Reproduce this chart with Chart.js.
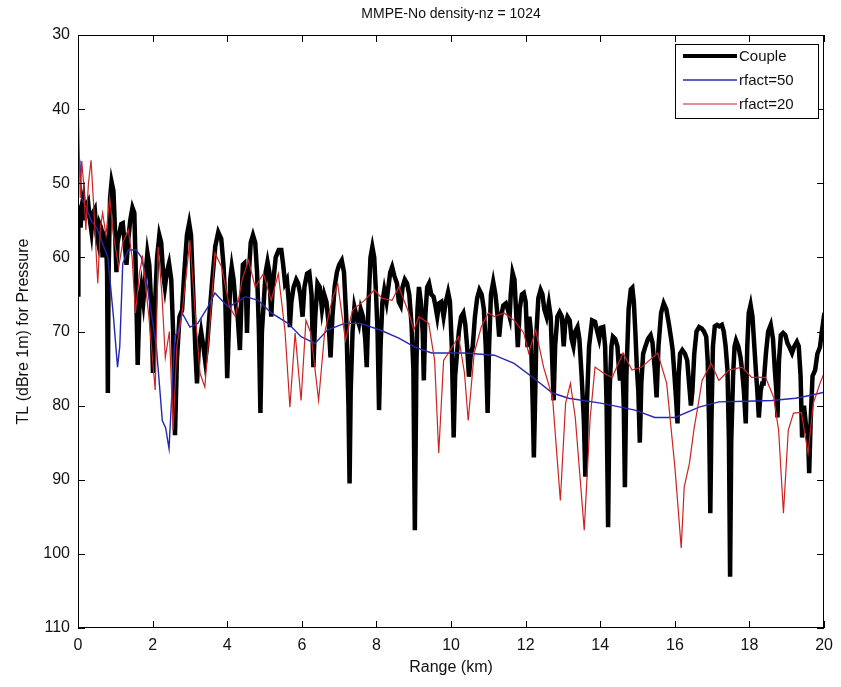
<!DOCTYPE html>
<html><head><meta charset="utf-8">
<script src="https://cdn.jsdelivr.net/npm/chart.js@4"></script>
<style>html,body{margin:0;padding:0;background:#fff}#wrap{width:841px;height:687px}</style>
</head><body><div id="wrap"><canvas id="c" width="841" height="687"></canvas></div>
<script>
const FONT = "'Liberation Sans',Arial,sans-serif";
const chartTitle = 'MMPE-No density-nz = 1024';
const xAxisLabel = 'Range (km)';
const yAxisLabel = 'TL (dBre 1m) for Pressure';
const seriesNames = ['Couple', 'rfact=50', 'rfact=20'];
const xTickValues = [0, 2, 4, 6, 8, 10, 12, 14, 16, 18, 20];
const yTickValues = [30, 40, 50, 60, 70, 80, 90, 100, 110];

// [range km, TL dB]
const couplePoints = [[0,65],[0.01,56],[0.04,53],[0.07,56],[0.1,53],[0.14,52],[0.18,55],[0.22,53],[0.27,52.5],[0.32,55],[0.36,56.5],[0.4,54],[0.45,53.5],[0.5,57],[0.54,58],[0.58,55.5],[0.62,56],[0.66,60],[0.7,57],[0.75,57.5],[0.78,62],[0.8,78.3],[0.82,62],[0.86,52],[0.9,49.8],[0.95,51],[0.99,56],[1.03,62],[1.06,58],[1.1,57],[1.16,55.5],[1.2,55.4],[1.25,58],[1.3,61],[1.34,58],[1.4,55],[1.46,53.3],[1.51,54],[1.55,62],[1.6,74.5],[1.65,66],[1.7,64],[1.75,66],[1.8,63],[1.86,59.4],[1.91,61],[1.96,66],[2.01,75.6],[2.06,67],[2.12,60],[2.18,57],[2.23,58],[2.28,62],[2.33,64],[2.38,62],[2.44,60.8],[2.5,63],[2.55,70],[2.6,84],[2.65,74],[2.72,68],[2.79,67.1],[2.85,62],[2.92,57],[2.98,55.4],[3.03,57],[3.09,65],[3.15,73],[3.19,77],[3.24,72],[3.3,70],[3.36,72],[3.41,74],[3.46,72],[3.52,68],[3.6,63],[3.68,58.5],[3.76,56.6],[3.84,57.5],[3.9,61],[3.95,66],[4.0,76.3],[4.04,70],[4.08,63],[4.12,61.3],[4.17,63],[4.22,66],[4.28,68],[4.34,72.5],[4.38,66],[4.42,61],[4.46,60.8],[4.5,64],[4.53,70.2],[4.57,63],[4.63,58],[4.69,57],[4.75,58],[4.8,62],[4.85,70],[4.89,81],[4.93,70],[4.98,66],[5.03,62],[5.08,60.6],[5.13,62],[5.18,68],[5.22,64],[5.3,60],[5.38,59],[5.45,59],[5.5,61],[5.55,63.5],[5.6,63],[5.65,66],[5.68,69.4],[5.72,66],[5.78,64],[5.85,63],[5.9,63.5],[5.96,65],[6.02,68],[6.07,64],[6.14,62.2],[6.2,62],[6.26,65],[6.31,74.8],[6.36,68],[6.42,63.5],[6.48,64],[6.54,67],[6.6,65],[6.66,66],[6.72,69],[6.77,73.5],[6.82,68],[6.88,64],[6.94,62],[7.0,61],[7.07,60.4],[7.13,62],[7.19,68],[7.25,80],[7.28,90.5],[7.31,78],[7.36,70],[7.41,66.7],[7.47,68],[7.53,69],[7.58,67],[7.64,68],[7.7,71],[7.74,74.8],[7.79,66],[7.84,60],[7.89,58.6],[7.94,60],[7.99,65],[8.03,70],[8.07,80.6],[8.11,72],[8.16,66],[8.21,64.4],[8.27,66],[8.32,64],[8.37,62],[8.42,61.3],[8.48,62.5],[8.55,63.5],[8.6,66],[8.65,66.5],[8.7,64],[8.76,63],[8.82,63.5],[8.88,65],[8.94,69],[8.99,75],[9.03,96.8],[9.07,75],[9.1,67],[9.14,64],[9.19,66],[9.24,70],[9.27,76.6],[9.31,68],[9.36,64],[9.41,63.5],[9.47,65],[9.53,65.3],[9.58,66.5],[9.63,68],[9.68,66.2],[9.74,66],[9.8,68],[9.86,66],[9.92,64.7],[9.97,66],[10.02,72],[10.07,84.3],[10.11,76],[10.16,72.9],[10.21,70],[10.27,68],[10.33,67.5],[10.38,69],[10.43,72],[10.48,76.1],[10.53,73],[10.58,72.1],[10.64,68],[10.7,65.5],[10.76,64.4],[10.82,65],[10.88,67],[10.93,72],[10.98,81],[11.02,72],[11.07,65],[11.13,63.3],[11.19,65],[11.25,68],[11.29,70.7],[11.34,68],[11.4,66.5],[11.47,66.2],[11.52,67],[11.57,68],[11.6,65],[11.65,62.1],[11.7,63],[11.75,68],[11.79,72.1],[11.84,67],[11.9,65],[11.95,64.8],[12.0,66],[12.05,72.1],[12.1,68],[12.14,70],[12.19,80],[12.22,87],[12.25,80],[12.29,70],[12.34,65.5],[12.4,64.4],[12.45,65],[12.5,67],[12.56,68],[12.62,66.2],[12.67,68],[12.72,75],[12.75,79.3],[12.79,72],[12.85,68],[12.91,67.4],[12.97,68],[13.02,72],[13.06,69],[13.12,68],[13.18,68.5],[13.23,71],[13.28,72],[13.33,70],[13.39,69.4],[13.44,71],[13.5,76],[13.56,82],[13.6,89.6],[13.64,80],[13.7,72],[13.78,68.5],[13.86,68.7],[13.92,70],[13.97,71],[14.02,69.5],[14.08,69.4],[14.13,72],[14.17,80],[14.21,96.4],[14.25,78],[14.3,72],[14.34,70.7],[14.4,71],[14.46,72],[14.5,75],[14.53,76.6],[14.58,73],[14.63,80],[14.66,91],[14.7,76],[14.76,67],[14.82,64.3],[14.86,64.1],[14.9,66],[14.94,70],[14.98,74.8],[15.02,78],[15.06,85],[15.1,77],[15.15,73],[15.21,72],[15.28,71],[15.35,70.5],[15.4,71.5],[15.46,75],[15.51,78.9],[15.56,72],[15.63,67.5],[15.7,66.2],[15.77,67],[15.84,69],[15.9,71],[15.94,72.5],[15.99,76],[16.03,79],[16.07,82.4],[16.1,76],[16.14,73],[16.2,72.5],[16.27,73],[16.33,73.9],[16.38,77],[16.43,80],[16.47,78],[16.52,73],[16.58,70],[16.65,69.4],[16.72,69.6],[16.78,70],[16.84,70.7],[16.88,74],[16.92,83],[16.95,94.5],[16.98,82],[17.02,72],[17.07,69.3],[17.13,69.1],[17.19,69.3],[17.26,69.1],[17.31,70],[17.36,72],[17.41,75.2],[17.45,85],[17.48,103.1],[17.51,85],[17.56,76],[17.6,72],[17.64,71.2],[17.7,72],[17.76,73.5],[17.8,75.2],[17.85,78],[17.9,82.4],[17.94,72],[17.98,67.5],[18.03,66.4],[18.08,68],[18.13,72],[18.17,75.2],[18.21,78],[18.25,81.6],[18.3,78],[18.34,77],[18.38,77],[18.44,73],[18.5,70],[18.57,69.1],[18.63,71],[18.68,75.2],[18.72,78],[18.75,81.6],[18.79,74],[18.84,70.5],[18.9,70.2],[18.96,70.5],[19.02,71.6],[19.08,72.2],[19.14,72.9],[19.2,72],[19.27,71.4],[19.32,72],[19.37,76],[19.41,84.3],[19.46,80],[19.52,82.9],[19.57,84],[19.6,89.1],[19.64,82],[19.69,76],[19.76,75.2],[19.82,73],[19.89,72.1],[19.94,70],[19.97,68.9],[20.0,69.5]];

const rfact50Points = [[0,46],[0.05,47],[0.1,52],[0.2,53],[0.35,55],[0.5,56],[0.65,58],[0.8,60],[0.95,68],[1.06,74.8],[1.12,72],[1.2,60.8],[1.35,59],[1.56,59],[1.7,60],[1.83,63],[1.95,67],[2.1,72],[2.26,82],[2.35,83],[2.44,85.8],[2.52,78],[2.6,70.5],[2.68,70.2],[2.79,67.5],[3.0,69.4],[3.21,68.9],[3.48,66.7],[3.67,64.8],[3.93,66.2],[4.04,66.7],[4.49,65.3],[4.83,65.8],[5.18,67.5],[5.63,68.9],[5.98,70.7],[6.35,71.6],[6.69,69.8],[7.14,68.9],[7.57,68.9],[8.1,69.8],[8.6,70.9],[9.03,72.1],[9.48,72.9],[10.36,72.9],[11.16,73.2],[11.69,74.3],[12.22,76.3],[12.72,78.3],[13.15,79],[14.05,79.7],[14.93,80.6],[15.46,81.6],[16.0,81.6],[16.65,80.2],[17.18,79.5],[17.9,79.4],[18.6,79.3],[19.23,79],[19.65,78.6],[20.0,78.2]];

const rfact20Points = [[0,38],[0.03,45],[0.06,52],[0.1,47],[0.15,50],[0.21,56.3],[0.28,50],[0.35,46.9],[0.42,53],[0.53,63.5],[0.6,56],[0.66,54],[0.75,57],[0.85,52],[0.95,57],[1.09,61.3],[1.2,58],[1.35,56.3],[1.45,60],[1.54,67.5],[1.65,62],[1.73,60],[1.9,68],[2.07,77.9],[2.15,58.6],[2.25,65],[2.34,73.5],[2.45,70],[2.55,83.3],[2.65,72],[2.79,67.5],[3.0,57.7],[3.15,68],[3.27,75.6],[3.4,77.5],[3.55,68],[3.67,59.4],[3.85,61.3],[4.06,66.7],[4.22,68],[4.4,63],[4.57,60.4],[4.75,64],[4.97,62.2],[5.18,65.8],[5.37,62.2],[5.55,70],[5.68,80.2],[5.82,70.2],[5.98,79.3],[6.11,68.5],[6.24,70.2],[6.45,79.3],[6.61,70.2],[6.8,66],[6.96,63.5],[7.17,71.2],[7.36,67.1],[7.68,65.8],[7.94,64.4],[8.15,65.5],[8.42,65.8],[8.6,64],[8.87,67.5],[9.0,69.8],[9.14,68],[9.4,68.9],[9.56,73.9],[9.67,86.4],[9.8,73.9],[9.93,72.9],[10.2,70.7],[10.36,75.6],[10.46,82],[10.62,72.9],[10.81,69.4],[11.0,67.5],[11.16,68],[11.42,67.5],[11.69,68.5],[11.95,70.2],[12.08,72.9],[12.27,69.8],[12.48,74.8],[12.72,78.9],[12.93,92.8],[13.07,79.7],[13.2,77],[13.33,81.6],[13.57,96.8],[13.73,81.6],[13.86,74.8],[14.08,75.6],[14.32,76.2],[14.61,72.9],[14.85,75.2],[15.11,74.8],[15.54,72.9],[15.78,77],[16.0,88.3],[16.17,99.2],[16.25,91],[16.39,87.8],[16.52,82.9],[16.6,80.6],[16.73,76.6],[16.97,74.3],[17.18,76.6],[17.45,75.2],[17.8,74.8],[18.06,76.2],[18.43,76.2],[18.65,78.9],[18.78,83.3],[18.91,94.5],[19.04,83.3],[19.18,81],[19.39,80.9],[19.57,86.4],[19.71,79.7],[19.89,77],[20.0,75.6]];

const seriesColors = ['#000000', '#2626b4', '#cc2323'];
const seriesWidths = [4.5, 1.4, 1.2];

function pts(pairs) { return pairs.map(p => ({ x: p[0], y: p[1] })); }

const framePlugin = {
  id: 'framePlugin',
  afterDatasetsDraw(chart) {
    const { ctx, chartArea: a, scales } = chart;
    const xs = scales.x, ys = scales.y;
    ctx.save();
    ctx.strokeStyle = '#000';
    ctx.lineWidth = 1;
    ctx.strokeRect(Math.round(a.left) + 0.5, Math.round(a.top) + 0.5, Math.round(a.right - a.left) - 1, Math.round(a.bottom - a.top) - 1);
    const L = 7;
    ctx.beginPath();
    xs.ticks.forEach(t => {
      const px = Math.round(xs.getPixelForValue(t.value)) + 0.5;
      ctx.moveTo(px, a.bottom); ctx.lineTo(px, a.bottom - L);
      ctx.moveTo(px, a.top); ctx.lineTo(px, a.top + L);
    });
    ys.ticks.forEach(t => {
      const py = Math.round(ys.getPixelForValue(t.value)) + 0.5;
      ctx.moveTo(a.left, py); ctx.lineTo(a.left + L, py);
      ctx.moveTo(a.right, py); ctx.lineTo(a.right - L, py);
    });
    ctx.stroke();
    ctx.fillStyle = '#111';
    ctx.font = '14px ' + FONT;
    ctx.textAlign = 'center';
    ctx.textBaseline = 'middle';
    ctx.fillText(chartTitle, (a.left + a.right) / 2, 14);
    const bw = 143, bh = 74;
    const bx = Math.round(a.right) - 6 - bw, by = Math.round(a.top) + 9;
    ctx.fillStyle = '#fff';
    ctx.fillRect(bx, by, bw, bh);
    ctx.strokeStyle = '#000';
    ctx.lineWidth = 1;
    ctx.strokeRect(bx + 0.5, by + 0.5, bw, bh);
    ctx.textAlign = 'left';
    ctx.font = '15px ' + FONT;
    chart.data.datasets.forEach((ds, i) => {
      const yy = by + 12 + i * 24;
      ctx.beginPath();
      ctx.strokeStyle = ds.borderColor;
      ctx.lineWidth = i === 0 ? 4 : ds.borderWidth;
      ctx.moveTo(bx + 8, yy); ctx.lineTo(bx + 62, yy);
      ctx.stroke();
      ctx.fillStyle = '#111';
      ctx.fillText(ds.label, bx + 64, yy + 1);
    });
    ctx.restore();
  }
};

new Chart(document.getElementById('c'), {
  type: 'scatter',
  data: {
    datasets: [
      { label: seriesNames[0], data: pts(couplePoints), borderColor: seriesColors[0], borderWidth: seriesWidths[0], showLine: true, pointRadius: 0, order: 3 },
      { label: seriesNames[1], data: pts(rfact50Points), borderColor: seriesColors[1], borderWidth: seriesWidths[1], showLine: true, pointRadius: 0, order: 2 },
      { label: seriesNames[2], data: pts(rfact20Points), borderColor: seriesColors[2], borderWidth: seriesWidths[2], showLine: true, pointRadius: 0, order: 1 }
    ]
  },
  options: {
    responsive: false,
    animation: false,
    devicePixelRatio: 1,
    layout: { padding: { top: 35, right: 9, left: 0, bottom: 0 } },
    plugins: { legend: { display: false }, title: { display: false }, tooltip: { enabled: false } },
    scales: {
      x: {
        type: 'linear', min: 0, max: 20,
        afterFit(s) { s.height = 59; },
        afterBuildTicks(s) { s.ticks = xTickValues.map(v => ({ value: v })); },
        grid: { display: false, drawTicks: false },
        border: { display: false },
        ticks: { color: '#111', padding: 8, font: { family: FONT, size: 16 } },
        title: { display: true, text: xAxisLabel, color: '#111', font: { family: FONT, size: 16 }, padding: { top: 0, bottom: 10 } }
      },
      y: {
        type: 'linear', min: 30, max: 110, reverse: true,
        afterFit(s) { s.width = 78; },
        afterBuildTicks(s) { s.ticks = yTickValues.map(v => ({ value: v })); },
        grid: { display: false, drawTicks: false },
        border: { display: false },
        ticks: { color: '#111', padding: 8, font: { family: FONT, size: 16 } },
        title: { display: true, text: yAxisLabel, color: '#111', font: { family: FONT, size: 16 }, padding: { top: 14, bottom: 0 } }
      }
    }
  },
  plugins: [framePlugin]
});
</script></body></html>
